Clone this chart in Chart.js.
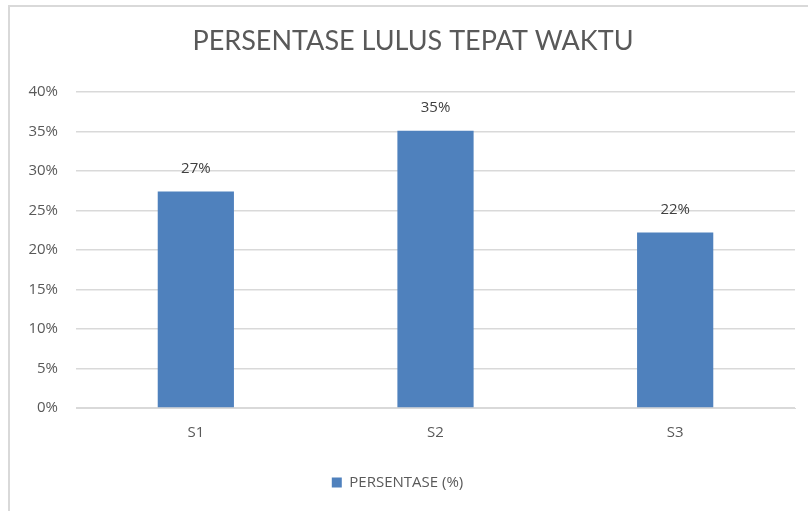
<!DOCTYPE html>
<html>
<head>
<meta charset="utf-8">
<script src="https://cdn.jsdelivr.net/npm/chart.js@4.4.1/dist/chart.umd.min.js"></script>
<style>
  html, body { margin: 0; padding: 0; background: #fff; }
  #wrap { position: relative; width: 808px; height: 511px; }
  #frame { position: absolute; left: 8px; top: 5px; right: 0; bottom: 0;
           border-left: 2px solid #d9d9d9; border-top: 2px solid #d9d9d9; }
  canvas { position: absolute; left: 0; top: 0; }
</style>
</head>
<body>
<div id="wrap">
  <div id="frame"></div>
  <canvas id="chart" width="808" height="511"></canvas>
</div>
<script>
// data
const categories = ["S1", "S2", "S3"];
const persentase = [27.4, 35.1, 22.2];
const seriesName = "PERSENTASE (%)";
const chartTitle = "PERSENTASE LULUS TEPAT WAKTU";

const textColor = "#595959";
const barColor = "#4f81bd";

// draws the rounded value above each bar
const valueLabels = {
  id: "valueLabels",
  afterDatasetsDraw(chart) {
    const ctx = chart.ctx;
    const meta = chart.getDatasetMeta(0);
    ctx.save();
    ctx.font = "15px 'Open Sans'";
    ctx.fillStyle = "#404040";
    ctx.textAlign = "center";
    ctx.textBaseline = "middle";
    meta.data.forEach((bar, i) => {
      ctx.fillText(Math.round(persentase[i]) + "%", bar.x, bar.y - 23);
    });
    ctx.restore();
  }
};

// title sits a bit right of the canvas centre, like the original
const chartTitlePlugin = {
  id: "chartTitlePlugin",
  afterDraw(chart) {
    const ctx = chart.ctx;
    ctx.save();
    ctx.font = "27px Lato";
    ctx.fillStyle = textColor;
    ctx.textAlign = "center";
    ctx.textBaseline = "middle";
    ctx.fillText(chartTitle, 413, 41);
    ctx.restore();
  }
};

const ctx = document.getElementById("chart").getContext("2d");
new Chart(ctx, {
  type: "bar",
  data: {
    labels: categories,
    datasets: [{
      label: seriesName,
      data: persentase,
      backgroundColor: barColor,
      borderWidth: 0,
      categoryPercentage: 1,
      barPercentage: 0.318
    }]
  },
  options: {
    responsive: false,
    animation: false,
    layout: { padding: { left: 0, right: 13, top: 92, bottom: 11 } },
    plugins: {
      title: { display: false },
      legend: {
        position: "bottom",
        labels: {
          color: textColor,
          font: { family: "'Open Sans'", size: 15 },
          boxWidth: 10,
          boxHeight: 10,
          padding: 17
        }
      },
      tooltip: { enabled: false }
    },
    scales: {
      x: {
        grid: { display: false, drawTicks: false },
        border: { display: true, color: "#d9d9d9", width: 1 },
        ticks: { color: textColor, font: { family: "'Open Sans'", size: 15 }, padding: 16 }
      },
      y: {
        min: 0,
        max: 40,
        grid: { color: "#d9d9d9", lineWidth: 1.5, drawTicks: false },
        border: { display: false },
        ticks: {
          stepSize: 5,
          color: textColor,
          font: { family: "'Open Sans'", size: 15 },
          padding: 18,
          callback: (v) => v + "%"
        },
        afterFit: (scale) => { scale.width = 76; }
      }
    }
  },
  plugins: [valueLabels, chartTitlePlugin]
});
</script>
</body>
</html>
